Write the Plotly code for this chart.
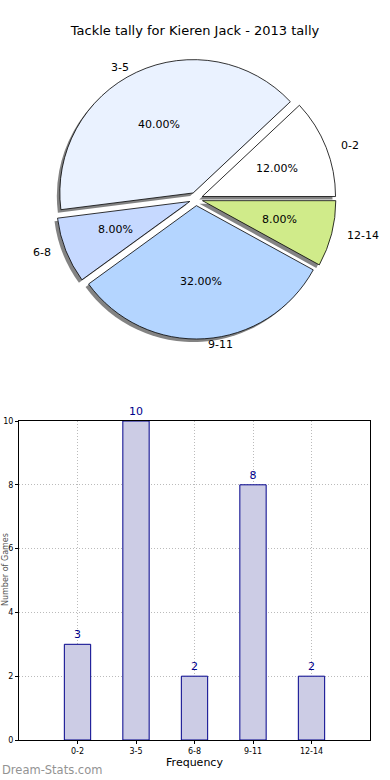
import math
import plotly.graph_objects as go

categories = ["0-2", "3-5", "6-8", "9-11", "12-14"]
counts = [3, 10, 2, 8, 2]
pie_colors = ["#ffffff", "#eaf2ff", "#c6d9ff", "#b4d5ff", "#d0eb8a"]
pull = [0.05, 0.05, 0.05, 0.05, 0.05]

W, H = 390, 780
FONT = "DejaVu Sans"
ROT = 46.8

# pie geometry (pixels)
cx, cy, half = 196, 199, 140
R = half / (1 + max(pull))
VSQ = 0.95  # reference pie is slightly squashed vertically; applied to text placement


def dom(cxp, cyp, h):
    return dict(x=[(cxp - h) / W, (cxp + h) / W],
                y=[(H - cyp - h) / H, (H - cyp + h) / H])


fig = go.Figure()

# shadow pie
fig.add_trace(go.Pie(
    labels=categories, values=counts, sort=False, direction="counterclockwise",
    rotation=ROT, pull=pull, domain=dom(cx - 3, cy + 3, half),
    marker=dict(colors=["rgba(90,90,90,0.75)"] * 5, line=dict(width=0)),
    textinfo="none", hoverinfo="skip", showlegend=False))

# main pie
fig.add_trace(go.Pie(
    labels=categories, values=counts, sort=False, direction="counterclockwise",
    rotation=ROT, pull=pull, domain=dom(cx, cy, half),
    marker=dict(colors=pie_colors, line=dict(color="black", width=0.8)),
    textinfo="none", showlegend=False))

# percentage labels (0.6 r) and category labels (1.1 r) along each slice's mid angle
annotations = []
total = sum(counts)
cum = 0
for lab, v, p in zip(categories, counts, pull):
    mid = math.radians(360.0 * (cum + v / 2) / total)
    cum += v
    c, s = math.cos(mid), math.sin(mid)
    rr = (0.6 + p) * R
    annotations.append(dict(
        text=f"{100 * v / total:.2f}%", xref="paper", yref="paper",
        x=(cx + rr * c) / W, y=1 - (cy - rr * s * VSQ) / H,
        xanchor="center", yanchor="middle",
        showarrow=False, font=dict(family=FONT, size=11, color="black")))
    rl = (1.1 + p) * R
    annotations.append(dict(
        text=lab, xref="paper", yref="paper",
        x=(cx + rl * c) / W, y=1 - (cy - rl * s * VSQ) / H,
        xanchor="left" if c > 0 else "right", yanchor="middle",
        showarrow=False, font=dict(family=FONT, size=11, color="black")))

# bar chart
fig.add_trace(go.Bar(
    x=categories, y=counts, width=0.45,
    marker=dict(color="#ccccE5", line=dict(color="#00008b", width=1)),
    text=[str(c) for c in counts], textposition="outside",
    textfont=dict(family=FONT, size=11, color="#00008b"),
    cliponaxis=False, showlegend=False, xaxis="x", yaxis="y"))

annotations += [
    dict(text="Dream-Stats.com", xref="paper", yref="paper",
         x=0, y=1 - 770 / H, xanchor="left", yanchor="middle",
         showarrow=False, font=dict(family=FONT, size=11.5, color="#939393")),
    dict(text="Number of Games", xref="paper", yref="paper",
         x=5 / W, y=(H - 570) / H, xanchor="center", yanchor="middle",
         textangle=-90, showarrow=False,
         font=dict(family=FONT, size=8, color="#555555")),
]

fig.update_layout(
    width=W, height=H,
    margin=dict(l=0, r=0, t=0, b=0),
    paper_bgcolor="white", plot_bgcolor="white",
    font=dict(family=FONT, color="black"),
    title=dict(text="Tackle tally for Kieren Jack - 2013 tally",
               x=0.5, xanchor="center", y=1 - 30 / H, yanchor="middle",
               font=dict(family=FONT, size=13, color="black")),
    xaxis=dict(domain=[19 / W, 370 / W], range=[-1, 5], automargin=False,
               showline=True, linecolor="black", linewidth=1, mirror=True,
               ticks="outside", ticklen=3, tickcolor="black",
               tickfont=dict(family=FONT, size=8, color="black"),
               showgrid=True, gridcolor="#bbbbbb", griddash="1px,2px", gridwidth=1,
               title=dict(text="Frequency", font=dict(family=FONT, size=11), standoff=2),
               zeroline=False),
    yaxis=dict(domain=[40 / H, (H - 421) / H], range=[0, 10], automargin=False,
               tickvals=[0, 2, 4, 6, 8, 10],
               showline=True, linecolor="black", linewidth=1, mirror=True,
               ticks="outside", ticklen=3, tickcolor="black",
               tickfont=dict(family=FONT, size=8, color="black"),
               showgrid=True, gridcolor="#bbbbbb", griddash="1px,2px", gridwidth=1,
               zeroline=False),
    annotations=annotations,
)

fig.write_html("out.html", config={"displayModeBar": False},
               post_script="document.body.style.margin='0';")
